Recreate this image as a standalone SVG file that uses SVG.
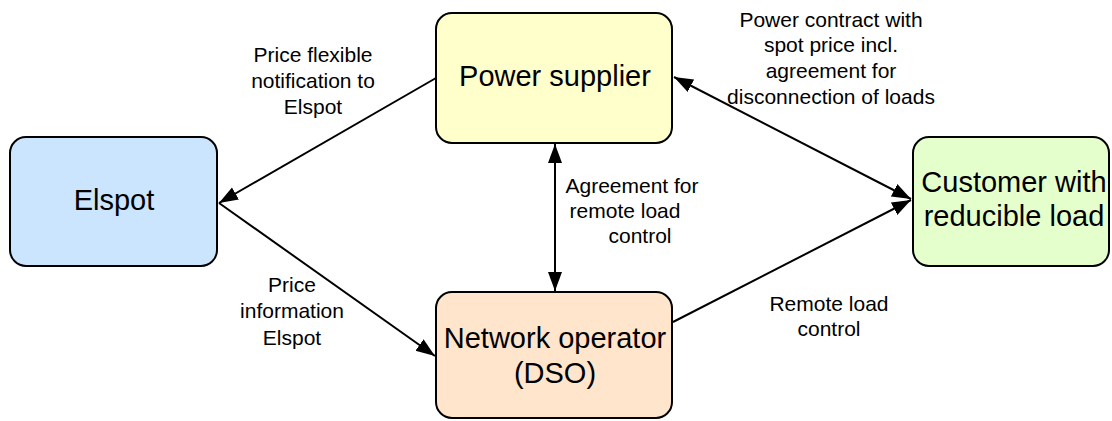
<svg xmlns="http://www.w3.org/2000/svg" width="1112" height="421" viewBox="0 0 1112 421">
<style>
.box{stroke:#000;stroke-width:2}
.nt{font-family:"Liberation Sans",Arial,sans-serif;font-size:29px;fill:#000;text-anchor:middle}
.lb{font-family:"Liberation Sans",Arial,sans-serif;font-size:21px;fill:#000;text-anchor:middle}
.ln{stroke:#000;stroke-width:2;fill:none}
</style>
<defs>
<marker id="ah" markerUnits="userSpaceOnUse" markerWidth="20" markerHeight="16" viewBox="0 0 20 16" refX="19" refY="8" orient="auto-start-reverse">
<path d="M0,1 L19,8 L0,15 Z" fill="#000"/>
</marker>
</defs>
<rect width="1112" height="421" fill="#fff"/>
<g id="connectors">
<line class="ln" x1="436" y1="78" x2="219" y2="203" marker-end="url(#ah)"/>
<line class="ln" x1="219" y1="203" x2="435" y2="356" marker-end="url(#ah)"/>
<line class="ln" x1="555" y1="144" x2="555" y2="291" marker-start="url(#ah)" marker-end="url(#ah)"/>
<line class="ln" x1="674" y1="77" x2="911" y2="199" marker-start="url(#ah)" marker-end="url(#ah)"/>
<line class="ln" x1="673" y1="322" x2="911" y2="200" marker-end="url(#ah)"/>
</g>
<g id="elspot">
<rect class="box" x="10" y="137" width="207" height="129" rx="16" fill="#CCE5FF"/>
<text class="nt" x="114" y="210">Elspot</text>
</g>
<g id="power-supplier">
<rect class="box" x="436" y="13" width="236" height="130" rx="16" fill="#FFFFCC"/>
<text class="nt" x="555" y="86">Power supplier</text>
</g>
<g id="network-operator">
<rect class="box" x="436" y="292" width="236" height="126" rx="16" fill="#FFE5CC"/>
<text class="nt" x="555" y="348">Network operator</text>
<text class="nt" x="555" y="383">(DSO)</text>
</g>
<g id="customer">
<rect class="box" x="913" y="137" width="196" height="129" rx="16" fill="#E5FFCC"/>
<text class="nt" x="1014" y="192">Customer with</text>
<text class="nt" x="1014" y="226">reducible load</text>
</g>
<g id="labels">
<text class="lb" x="313" y="62">Price flexible</text>
<text class="lb" x="313" y="88">notification to</text>
<text class="lb" x="313" y="114">Elspot</text>
<text class="lb" x="292" y="292">Price</text>
<text class="lb" x="292" y="318">information</text>
<text class="lb" x="292" y="345">Elspot</text>
<text class="lb" x="632" y="193">Agreement for</text>
<text class="lb" x="625" y="218">remote load</text>
<text class="lb" x="640" y="243">control</text>
<text class="lb" x="831" y="27">Power contract with</text>
<text class="lb" x="831" y="52">spot price incl.</text>
<text class="lb" x="831" y="78">agreement for</text>
<text class="lb" x="831" y="104">disconnection of loads</text>
<text class="lb" x="829" y="311">Remote load</text>
<text class="lb" x="829" y="336">control</text>
</g>
</svg>
